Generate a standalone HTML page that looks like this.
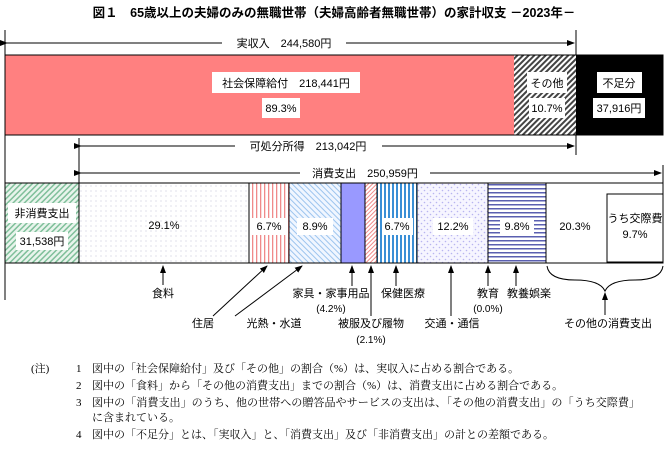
<!DOCTYPE html>
<html><head><meta charset="utf-8"><style>
body{margin:0;background:#fff}
svg{display:block;font-family:"Liberation Sans","Noto Sans CJK JP",sans-serif}
</style></head><body>
<svg width="668" height="454" viewBox="0 0 668 454" xmlns="http://www.w3.org/2000/svg">
<defs>
<pattern id="hatchD" width="4" height="4" patternUnits="userSpaceOnUse" patternTransform="rotate(45)"><rect width="4" height="4" fill="#fff"/><rect width="2" height="4" fill="#444"/></pattern>
<pattern id="green" width="4" height="4" patternUnits="userSpaceOnUse" patternTransform="rotate(45)"><rect width="4" height="4" fill="#e8f4ec"/><rect width="1.5" height="4" fill="#7fbf9a"/></pattern>
<pattern id="dots" width="5" height="5" patternUnits="userSpaceOnUse"><rect width="5" height="5" fill="#fff"/><circle cx="1" cy="1" r="0.6" fill="#ccd"/></pattern>
<pattern id="pinkV" width="4" height="4" patternUnits="userSpaceOnUse"><rect width="4" height="4" fill="#fff"/><rect width="1.3" height="4" fill="#f08a8a"/></pattern>
<pattern id="blueD" width="4" height="4" patternUnits="userSpaceOnUse" patternTransform="rotate(-45)"><rect width="4" height="4" fill="#f0f6ff"/><rect width="1" height="4" fill="#9cc4ee"/></pattern>
<pattern id="pinkD" width="3" height="3" patternUnits="userSpaceOnUse" patternTransform="rotate(45)"><rect width="3" height="3" fill="#fff"/><rect width="1" height="3" fill="#f08a8a"/></pattern>
<pattern id="blueV" width="4" height="4" patternUnits="userSpaceOnUse"><rect width="4" height="4" fill="#fff"/><rect width="2" height="4" fill="#3a8fd6"/></pattern>
<pattern id="lav" width="6" height="6" patternUnits="userSpaceOnUse"><rect width="6" height="6" fill="#f6f5ff"/><circle cx="1.5" cy="1.5" r="0.8" fill="#b8b4f0"/><circle cx="4.5" cy="4.5" r="0.8" fill="#b8b4f0"/></pattern>
<pattern id="blueH" width="4" height="4" patternUnits="userSpaceOnUse"><rect width="4" height="4" fill="#fff"/><rect width="4" height="1.5" fill="#5a5fb0"/></pattern>
<marker id="ar" markerWidth="8" markerHeight="6" refX="7" refY="3" orient="auto" markerUnits="userSpaceOnUse"><path d="M0,0 L8,3 L0,6 Z" fill="#000"/></marker>
</defs>
<g font-size="11" fill="#000">
<text x="334" y="17" text-anchor="middle" font-size="12.5" font-weight="bold">図１　65歳以上の夫婦のみの無職世帯（夫婦高齢者無職世帯）の家計収支 －2023年－</text>

<g stroke="#000" stroke-width="1">
<line x1="5" y1="30" x2="5" y2="300"/>
<line x1="576" y1="30" x2="576" y2="155"/>
<line x1="79" y1="138" x2="79" y2="183"/>
<line x1="663" y1="165" x2="663" y2="183"/>
<line x1="7" y1="43" x2="222" y2="43" marker-start="url(#ar)"/>
<line x1="346" y1="43" x2="574" y2="43" marker-end="url(#ar)"/>
<line x1="81" y1="146" x2="235" y2="146" marker-start="url(#ar)"/>
<line x1="382" y1="146" x2="574" y2="146" marker-end="url(#ar)"/>
<line x1="81" y1="173" x2="300" y2="173" marker-start="url(#ar)"/>
<line x1="430" y1="173" x2="661" y2="173" marker-end="url(#ar)"/>
</g>
<text x="284" y="47" text-anchor="middle">実収入　244,580円</text>
<text x="308" y="150" text-anchor="middle">可処分所得　213,042円</text>
<text x="365" y="177" text-anchor="middle">消費支出　250,959円</text>

<rect x="5" y="55" width="509" height="80" fill="#ff8080"/>
<rect x="514" y="55" width="62" height="80" fill="url(#hatchD)"/>
<rect x="576" y="55" width="87" height="80" fill="#000"/>
<rect x="5" y="55" width="658" height="80" fill="none" stroke="#000"/>
<rect x="212" y="72" width="148" height="21" fill="#fff"/>
<text x="286" y="87" text-anchor="middle">社会保障給付　218,441円</text>
<rect x="262" y="98" width="38" height="20" fill="#fff"/>
<text x="281" y="112" text-anchor="middle">89.3%</text>
<rect x="527" y="72" width="40" height="21" fill="#fff"/>
<text x="547" y="87" text-anchor="middle">その他</text>
<rect x="529" y="98" width="36" height="20" fill="#fff"/>
<text x="547" y="112" text-anchor="middle">10.7%</text>
<rect x="597" y="72" width="45" height="21" fill="#fff"/>
<text x="619" y="87" text-anchor="middle">不足分</text>
<rect x="593" y="98" width="52" height="20" fill="#fff"/>
<text x="619" y="112" text-anchor="middle">37,916円</text>

<rect x="5" y="183" width="74" height="80" fill="url(#green)"/>
<rect x="79" y="183" width="170" height="80" fill="url(#dots)"/>
<rect x="249" y="183" width="40" height="80" fill="url(#pinkV)"/>
<rect x="289" y="183" width="52" height="80" fill="url(#blueD)"/>
<rect x="341" y="183" width="24" height="80" fill="#9999ff"/>
<rect x="365" y="183" width="12" height="80" fill="url(#pinkD)"/>
<rect x="377" y="183" width="40" height="80" fill="url(#blueV)"/>
<rect x="417" y="183" width="71" height="80" fill="url(#lav)"/>
<rect x="488" y="183" width="58" height="80" fill="url(#blueH)"/>
<rect x="546" y="183" width="117" height="80" fill="#fff"/>
<g fill="none" stroke="#000">
<rect x="5" y="183" width="658" height="80"/>
<path d="M79 183V263M249 183V263M289 183V263M341 183V263M365 183V263M377 183V263M417 183V263M488 183V263M546 183V263"/>
<rect x="607" y="194" width="56" height="68"/>
</g>
<rect x="8" y="203" width="68" height="20" fill="#fff"/>
<text x="42" y="217" text-anchor="middle">非消費支出</text>
<rect x="16" y="232" width="52" height="18" fill="#fff"/>
<text x="42" y="245" text-anchor="middle">31,538円</text>
<text x="164" y="229" text-anchor="middle">29.1%</text>
<rect x="252" y="218" width="34" height="17" fill="#fff"/><text x="269" y="230" text-anchor="middle">6.7%</text>
<rect x="297" y="218" width="36" height="17" fill="#fff"/><text x="315" y="230" text-anchor="middle">8.9%</text>
<rect x="383" y="218" width="30" height="17" fill="#fff"/><text x="397" y="230" text-anchor="middle">6.7%</text>
<rect x="433" y="218" width="40" height="17" fill="#fff"/><text x="453" y="230" text-anchor="middle">12.2%</text>
<rect x="500" y="218" width="34" height="17" fill="#fff"/><text x="517" y="230" text-anchor="middle">9.8%</text>
<text x="575" y="230" text-anchor="middle">20.3%</text>
<text x="635" y="222" text-anchor="middle">うち交際費</text>
<text x="635" y="238" text-anchor="middle">9.7%</text>

<g stroke="#000" fill="none">
<line x1="163" y1="285" x2="163" y2="266" marker-end="url(#ar)"/>
<line x1="213" y1="316" x2="267" y2="266" marker-end="url(#ar)"/>
<line x1="235" y1="316" x2="302" y2="266" marker-end="url(#ar)"/>
<line x1="352" y1="286" x2="352" y2="266" marker-end="url(#ar)"/>
<line x1="371" y1="316" x2="371" y2="266" marker-end="url(#ar)"/>
<line x1="396" y1="286" x2="396" y2="266" marker-end="url(#ar)"/>
<line x1="451" y1="316" x2="451" y2="266" marker-end="url(#ar)"/>
<line x1="488" y1="286" x2="488" y2="266" marker-end="url(#ar)"/>
<line x1="516" y1="286" x2="516" y2="266" marker-end="url(#ar)"/>
<line x1="605" y1="315" x2="605" y2="293" marker-end="url(#ar)"/>
<path d="M547 266 Q549 280 575 280 Q600 280 605 291 Q610 280 635 280 Q661 280 663 266"/>
</g>
<text x="163" y="297" text-anchor="middle">食料</text>
<text x="203" y="327" text-anchor="middle">住居</text>
<text x="274" y="327" text-anchor="middle">光熱・水道</text>
<text x="331" y="297" text-anchor="middle">家具・家事用品</text>
<text x="331" y="312" text-anchor="middle" font-size="10">(4.2%)</text>
<text x="403" y="297" text-anchor="middle">保健医療</text>
<text x="371" y="327" text-anchor="middle">被服及び履物</text>
<text x="371" y="343" text-anchor="middle" font-size="10">(2.1%)</text>
<text x="452" y="327" text-anchor="middle">交通・通信</text>
<text x="488" y="297" text-anchor="middle">教育</text>
<text x="488" y="312" text-anchor="middle" font-size="10">(0.0%)</text>
<text x="529" y="297" text-anchor="middle">教養娯楽</text>
<text x="608" y="327" text-anchor="middle">その他の消費支出</text>

<g font-size="11" font-family="'Liberation Serif','Noto Serif CJK SC',serif">
<text x="31" y="372">(注)</text>
<text x="76" y="372">1</text>
<text x="92" y="372">図中の「社会保障給付」及び「その他」の割合（%）は、実収入に占める割合である。</text>
<text x="76" y="389">2</text>
<text x="92" y="389">図中の「食料」から「その他の消費支出」までの割合（%）は、消費支出に占める割合である。</text>
<text x="76" y="406">3</text>
<text x="92" y="406" textLength="548" lengthAdjust="spacingAndGlyphs">図中の「消費支出」のうち、他の世帯への贈答品やサービスの支出は、「その他の消費支出」の「うち交際費」</text>
<text x="92" y="421">に含まれている。</text>
<text x="76" y="438">4</text>
<text x="92" y="438">図中の「不足分」とは、「実収入」と、「消費支出」及び「非消費支出」の計との差額である。</text>
</g>
</g>
</svg>
</body></html>
